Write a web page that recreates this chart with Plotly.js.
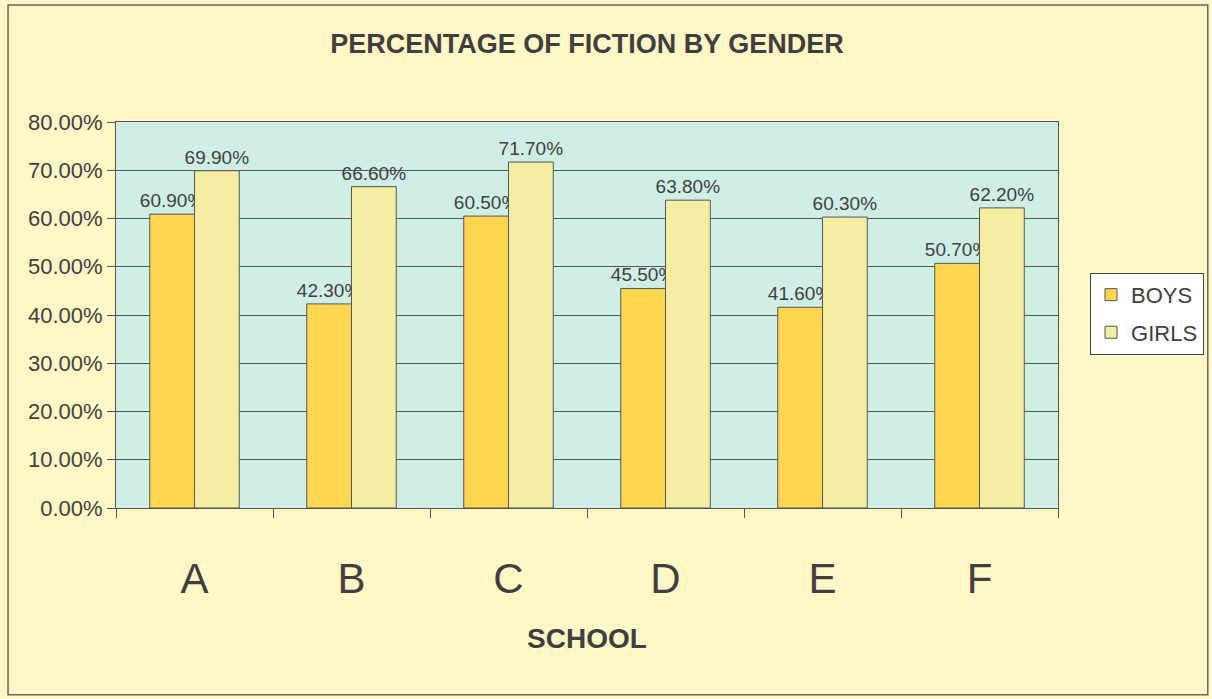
<!DOCTYPE html>
<html><head><meta charset="utf-8">
<script src="https://cdn.plot.ly/plotly-3.0.1.min.js"></script>
<style>html,body{margin:0;padding:0;background:#FFF7C6;}#chart{width:1212px;height:699px;}</style>
</head><body><div id="chart"></div>
<script>
const schools = ["A","B","C","D","E","F"];
const boys = [0.609,0.423,0.605,0.455,0.416,0.507];
const girls = [0.699,0.666,0.717,0.638,0.603,0.622];
const seriesNames = ["BOYS","GIRLS"];

const fontFam = "Liberation Sans, Arial, sans-serif";
const txtCol = "#3f3f3f";
const fmt = v => (v*100).toFixed(2) + "%";

const traces = [
  {type:"bar", name:seriesNames[0], legendgroup:"g1", x:schools, y:boys, text:boys.map(fmt), textposition:"outside",
   constraintext:"none", textfont:{family:fontFam,size:19,color:txtCol}, cliponaxis:false,
   marker:{color:"#FFD652", line:{color:"#555",width:1}}},
  {type:"bar", name:seriesNames[1], legendgroup:"g2", x:schools, y:girls, text:girls.map(fmt), textposition:"outside",
   constraintext:"none", textfont:{family:fontFam,size:19,color:txtCol}, cliponaxis:false,
   marker:{color:"#F4EDA2", line:{color:"#555",width:1}}}
];

const layout = {
  width:1212, height:699,
  paper_bgcolor:"#FFF7C6", plot_bgcolor:"#CFEEE6",
  font:{family:fontFam, color:txtCol},
  margin:{l:116, r:154, t:122, b:191, autoexpand:false},
  barmode:"group", bargap:0.43, bargroupgap:0,
  title:{text:"<b>PERCENTAGE OF FICTION BY GENDER</b>", x:0.5, xref:"paper", y:0.937, yanchor:"middle",
         font:{family:fontFam,size:27,color:txtCol}},
  xaxis:{tickfont:{family:fontFam,size:42,color:txtCol}, ticks:"outside", tickson:"boundaries", automargin:false,
         ticklen:9, tickcolor:"#555", ticklabelstandoff:34, showline:true, linecolor:"#555", linewidth:1, mirror:true,
         title:{text:"<b>SCHOOL</b>", font:{family:fontFam,size:28,color:txtCol}, standoff:26}},
  yaxis:{range:[0,0.8], dtick:0.1, tickformat:".2%", tickfont:{family:fontFam,size:22,color:txtCol}, automargin:false,
         ticks:"outside", ticklen:8, tickcolor:"#555", showgrid:true, gridcolor:"#555", gridwidth:1,
         showline:true, linecolor:"#555", linewidth:1, mirror:true, zeroline:false},
  legend:{x:1.034, y:0.503, xanchor:"left", yanchor:"middle", bgcolor:"#FFFFFF", bordercolor:"#444", borderwidth:1,
          font:{family:fontFam,size:22,color:txtCol}, tracegroupgap:6, itemwidth:30},
  shapes:[{type:"rect", xref:"paper", yref:"paper", x0:-0.1146, x1:1.159, y0:-0.484, y1:1.303,
           line:{color:"#666",width:1.5}, fillcolor:"rgba(0,0,0,0)"}],
  showlegend:true
};
Plotly.newPlot("chart", traces, layout, {displayModeBar:false, staticPlot:true});
</script></body></html>
